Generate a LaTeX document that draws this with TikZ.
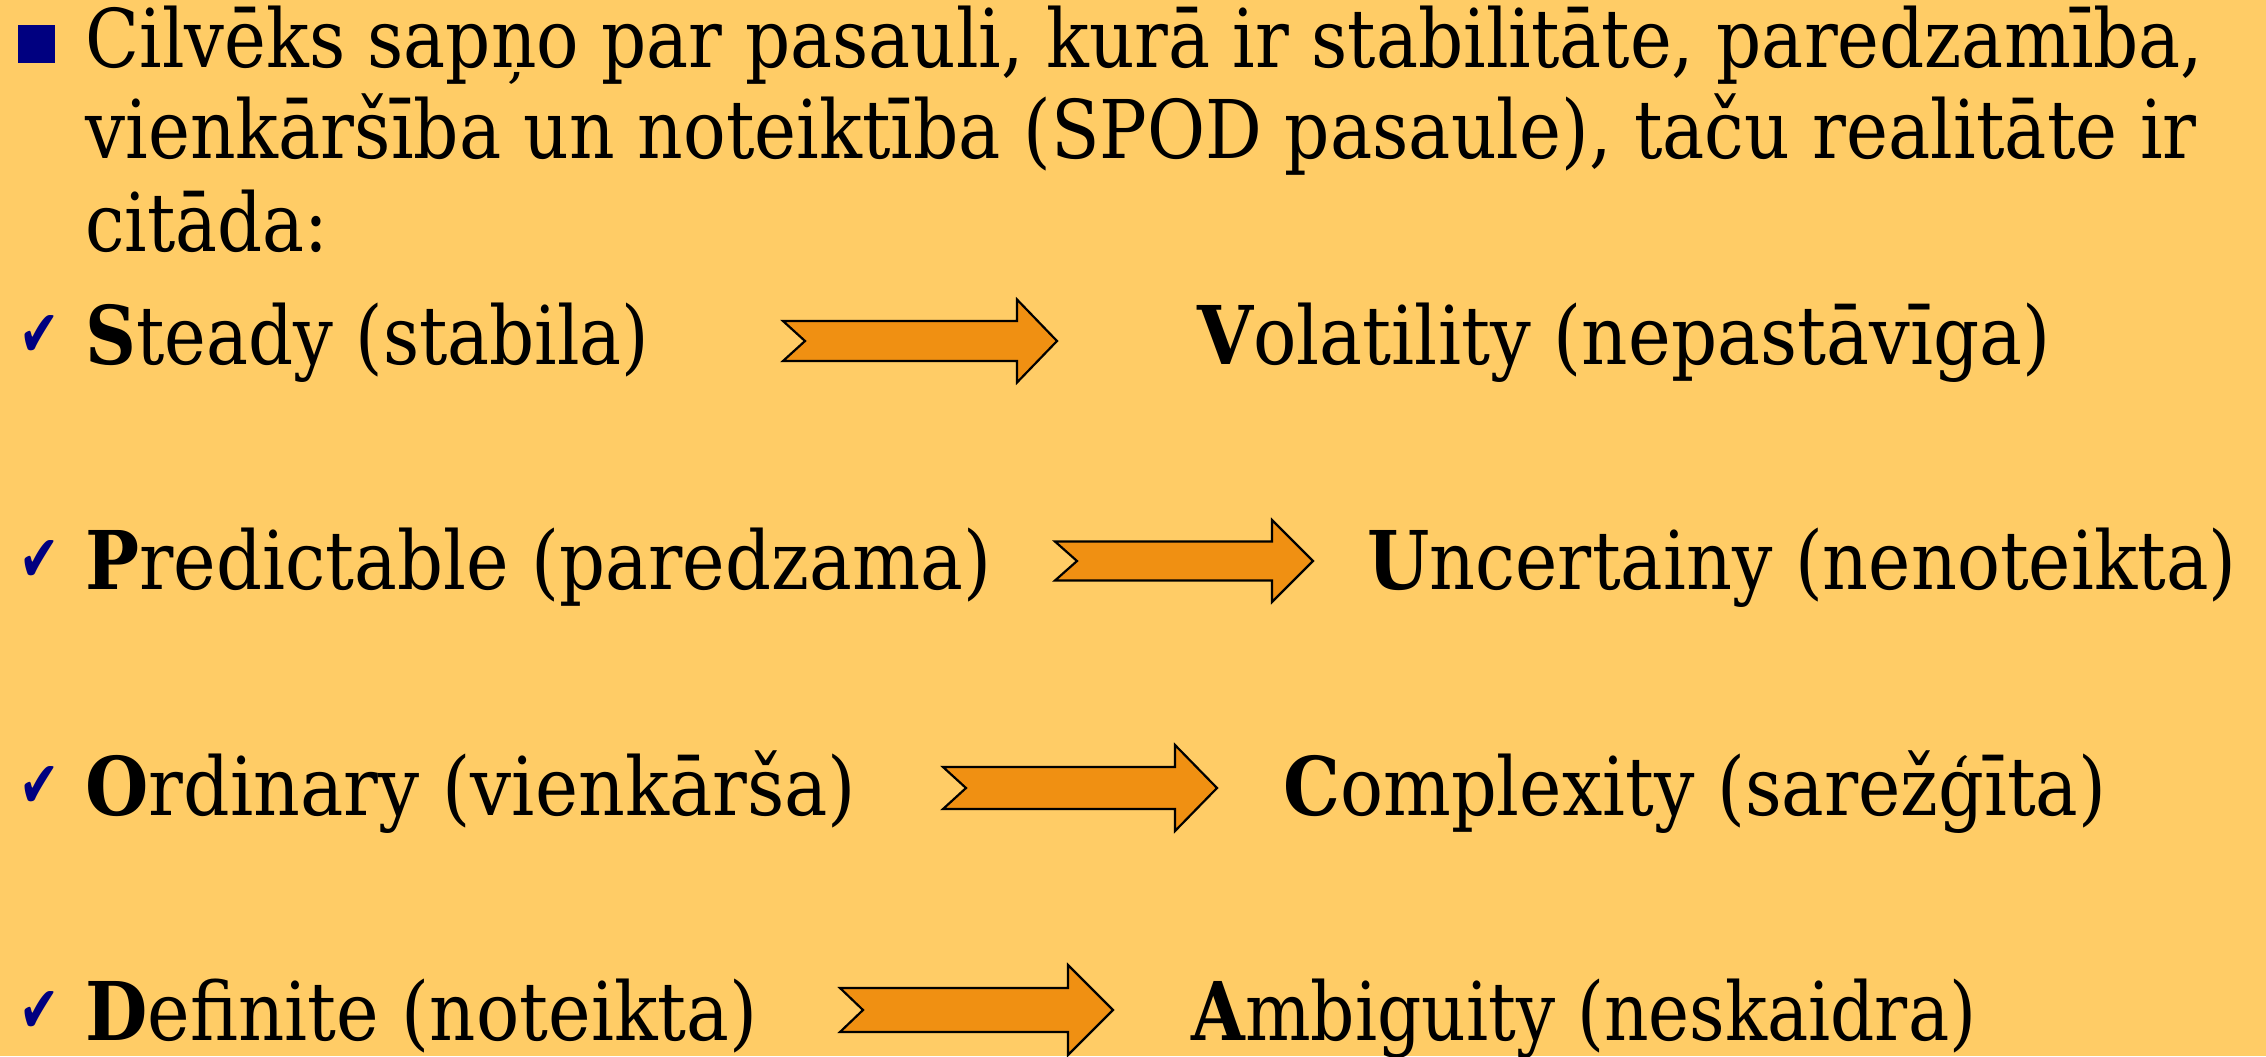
\documentclass[tikz,border=0pt]{standalone}
\usepackage{fontspec}
\setmainfont{DejaVu Serif}
\newfontfamily\symfont{DejaVu Sans}
\usepackage{graphicx}
\definecolor{bgcol}{RGB}{255,204,102}
\definecolor{arrowfill}{RGB}{240,144,18}
\definecolor{navyblue}{RGB}{0,0,128}
\newdimen\pxu \pxu=0.5pt
\newcommand\fitw[2]{\resizebox{#1\pxu}{\height}{#2}}
\newcommand\bigarrow[7]{% left, notch, headbase, tip, cy, shafthalf, headhalf
  \draw[blockarrow] (#1,#5-#6) -- (#3,#5-#6) -- (#3,#5-#7) -- (#4,#5) -- (#3,#5+#7) -- (#3,#5+#6) -- (#1,#5+#6) -- (#2,#5) -- cycle;}
\begin{document}
\begin{tikzpicture}[x=0.5pt,y=-0.5pt,
  txt/.style={anchor=base west, inner sep=0pt, font=\fontsize{40.5}{48}\selectfont},
  tick/.style={anchor=north west, inner sep=0pt, text=navyblue, font=\symfont\fontsize{30}{36}\selectfont},
  blockarrow/.style={draw=black, fill=arrowfill, line width=1.1pt, line join=miter}]
\fill[bgcol] (0,0) rectangle (2266,1056);
\useasboundingbox (0,0) rectangle (2266,1056);
% bullet
\fill[navyblue] (18,25) rectangle (55,63);
\node[txt] (l1) at (85,67) {\fitw{2118}{Cilvēks sapņo par pasauli, kurā ir stabilitāte, paredzamība,}};
\node[txt] (l2) at (85,158) {\fitw{2111}{vienkāršība un noteiktība (SPOD pasaule), taču realitāte ir}};
\node[txt] (l3) at (85,251) {\fitw{243}{citāda:}};
% rows
\node[tick] (c1) at (19,315) {\resizebox{40\pxu}{41\pxu}{✔}};
\node[tick] (c2) at (19,540) {\resizebox{40\pxu}{41\pxu}{✔}};
\node[tick] (c3) at (19,766) {\resizebox{40\pxu}{41\pxu}{✔}};
\node[tick] (c4) at (19,991) {\resizebox{40\pxu}{41\pxu}{✔}};
\node[txt] (s1) at (85,364) {\fitw{564}{{\bfseries S}teady (stabila)}};
\node[txt] (s2) at (85,589) {\fitw{906}{{\bfseries P}redictable (paredzama)}};
\node[txt] (s3) at (85,815) {\fitw{771}{{\bfseries O}rdinary (vienkārša)}};
\node[txt] (s4) at (85,1040) {\fitw{672}{{\bfseries D}efinite (noteikta)}};
\node[txt] (t1) at (1197,364) {\fitw{853}{{\bfseries V}olatility (nepastāvīga)}};
\node[txt] (t2) at (1367,589) {\fitw{869}{{\bfseries U}ncertainy (nenoteikta)}};
\node[txt] (t3) at (1283,815) {\fitw{823}{{\bfseries C}omplexity (sarežģīta)}};
\node[txt] (t4) at (1191,1040) {\fitw{785}{{\bfseries A}mbiguity (neskaidra)}};
% arrows
\bigarrow{783}{805}{1017}{1057}{341}{20}{41.5}
\bigarrow{1055}{1077}{1272}{1313}{561}{19.5}{41}
\bigarrow{943}{966}{1175}{1217}{788}{21}{43}
\bigarrow{840}{863}{1068}{1113}{1010}{22}{45}
\end{tikzpicture}
\end{document}
